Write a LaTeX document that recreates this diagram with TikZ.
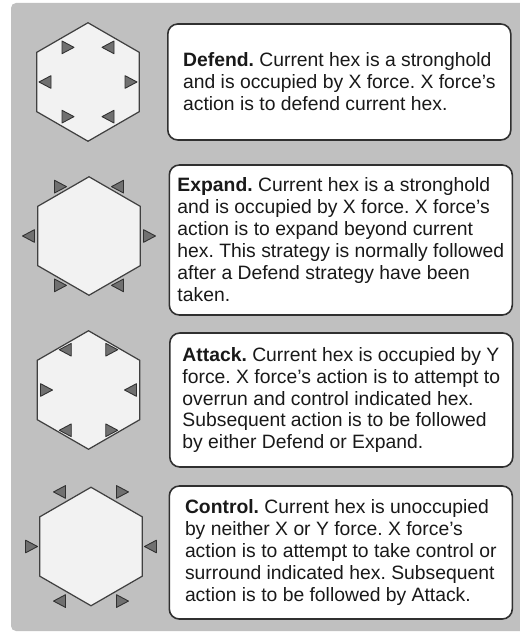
\documentclass[tikz,border=0pt]{standalone}
\usepackage{fontspec}
\setmainfont{Liberation Sans}
\usepackage{tikz}
\usetikzlibrary{shapes.geometric}

\definecolor{panelgray}{HTML}{C0C0C0}
\definecolor{hexfill}{HTML}{F2F2F2}
\definecolor{hexline}{HTML}{404040}
\definecolor{markfill}{HTML}{707070}
\definecolor{markline}{HTML}{303030}

\tikzset{
  hexcell/.style={draw=hexline, line width=0.7pt, fill=hexfill, regular polygon,
    regular polygon sides=6, shape border rotate=30, minimum size=2.37cm, inner sep=0pt},
  marker/.style={draw=markline, line width=0.5pt, fill=markfill, line join=round},
  stratbox/.style={draw=markline, line width=0.9pt, fill=white, rounded corners=0.2cm,
    anchor=west, align=left, minimum width=6.86cm, minimum height=#1,
    font=\fontsize{11}{12.5}\selectfont\frenchspacing, text=black!90}
}

\begin{document}
\begin{tikzpicture}
  \useasboundingbox (0,0) rectangle (10.4,-12.68);

  % Grey panel behind everything
  \fill[panelgray, rounded corners=0.1cm] (0.22,-0.06) rectangle (10.7,-12.62);

  % The four hexes
  \node[hexcell] (defendhex) at (1.76,-1.64) {};
  \node[hexcell] (expandhex) at (1.78,-4.72) {};
  \node[hexcell] (attackhex) at (1.77,-7.80) {};
  \node[hexcell] (controlhex) at (1.82,-10.93) {};

  % Small triangles round each hex (sign flips the pointing side)
  \foreach \h/\rd/\rh/\p in {defendhex/0.80/0.86/1, expandhex/1.14/1.21/1,
                             attackhex/0.93/0.84/-1, controlhex/1.26/1.19/-1}
    \foreach \a/\r/\k in {0/\rh/1, 60/\rd/-1, 120/\rd/1, 180/\rh/-1, 240/\rd/1, 300/\rd/-1} {
      \pgfmathsetmacro\s{\p*\k}
      \draw[marker] ([shift={(\a:\r)}]\h.center) ++({-0.12*\s},0.127) -- ++(0,-0.254)
        -- ++({0.24*\s},0.127) -- cycle;
    }

  % Strategy descriptions
  \node[stratbox=2.32cm] (defendtxt) at (3.34,-1.64)
    {\textbf{Defend.} Current hex is a stronghold\\
     and is occupied by X force. X force's\\
     action is to defend current hex.};
  \node[stratbox=3.0cm] (expandtxt) at (3.37,-4.80)
    {\textbf{Expand.} Current hex is a stronghold\\
     and is occupied by X force. X force's\\
     action is to expand beyond current\\
     hex. This strategy is normally followed\\
     after a Defend strategy have been\\
     taken.};
  \node[stratbox=2.68cm] (attacktxt) at (3.38,-8.00)
    {\textbf{Attack.} Current hex is occupied by Y\\
     force. X force's action is to attempt to\\
     overrun and control indicated hex.\\
     Subsequent action is to be followed\\
     by either Defend or Expand.};
  \node[stratbox=2.66cm] (controltxt) at (3.37,-11.05)
    {\textbf{Control.} Current hex is unoccupied\\
     by neither X or Y force. X force's\\
     action is to attempt to take control or\\
     surround indicated hex. Subsequent\\
     action is to be followed by Attack.};
\end{tikzpicture}
\end{document}
